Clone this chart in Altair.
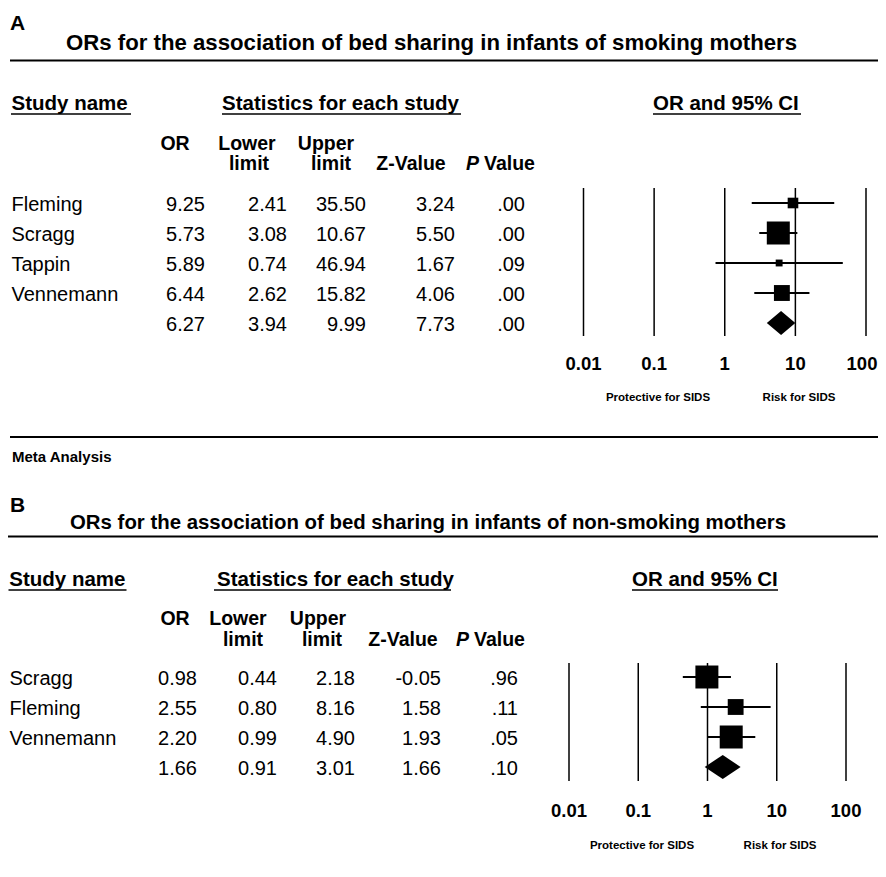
import altair as alt
import numpy as np
import pandas as pd

FONT = "Liberation Sans"

# ---------------- data ----------------
ticks = [0.01, 0.1, 1, 10, 100]
tick_labels = ["0.01", "0.1", "1", "10", "100"]

a_studies = ["Fleming", "Scragg", "Tappin", "Vennemann", ""]
a_or = [9.25, 5.73, 5.89, 6.44, 6.27]
a_lower = [2.41, 3.08, 0.74, 2.62, 3.94]
a_upper = [35.50, 10.67, 46.94, 15.82, 9.99]
a_z = [3.24, 5.50, 1.67, 4.06, 7.73]
a_p = [".00", ".00", ".09", ".00", ".00"]

b_studies = ["Scragg", "Fleming", "Vennemann", ""]
b_or = [0.98, 2.55, 2.20, 1.66]
b_lower = [0.44, 0.80, 0.99, 0.91]
b_upper = [2.18, 8.16, 4.90, 3.01]
b_z = [-0.05, 1.58, 1.93, 1.66]
b_p = [".96", ".11", ".05", ".10"]

title_a = "ORs for the association of bed sharing in infants of smoking mothers"
title_b = "ORs for the association of bed sharing in infants of non-smoking mothers"

one = pd.DataFrame({"k": [0]})
RIGHT = 870


def label(text, x, y, size, bold=True, italic=False, align="left"):
    return alt.Chart(one).mark_text(
        text=text, font=FONT, fontSize=size, fontWeight="bold" if bold else "normal",
        fontStyle="italic" if italic else "normal", align=align, baseline="alphabetic",
        color="black",
    ).encode(x=alt.value(x), y=alt.value(y))


def hline(x1, x2, y, w=2):
    return alt.Chart(one).mark_rule(color="black", strokeWidth=w).encode(
        x=alt.value(x1), x2=alt.value(x2), y=alt.value(y))


def panel(c):
    layers = []
    n = len(c["studies"])
    df = pd.DataFrame({
        "row": list(range(n)), "study": c["studies"], "or": c["or"],
        "lower": c["lower"], "upper": c["upper"], "z": c["z"], "p": c["p"],
    })
    df["or_s"] = df["or"].map("{:.2f}".format)
    df["lo_s"] = df["lower"].map("{:.2f}".format)
    df["hi_s"] = df["upper"].map("{:.2f}".format)
    df["z_s"] = df["z"].map("{:.2f}".format)
    se = (np.log(df["upper"]) - np.log(df["lower"])) / (2 * 1.96)
    df["w"] = 1.0 / se ** 2

    yscale = alt.Scale(domain=[0, n - 1], range=c["row_range"], nice=False, zero=False)
    Y = alt.Y("row:Q", scale=yscale, axis=None)
    xscale = alt.Scale(type="log", domain=[0.01, 100], range=c["log_range"], nice=False)

    def X(f):
        return alt.X(f"{f}:Q", scale=xscale, axis=None)

    # headers
    layers.append(label(c["letter"], c["letter_x"], c["letter_y"], 21))
    layers.append(label(c["title"], c["title_x"], c["title_y"], c["title_size"]))
    layers.append(hline(c["line_x"], RIGHT, c["line_y"]))
    for txt, x, ux in c["sections"]:
        layers.append(label(txt, x, c["sec_y"], 20.5))
        layers.append(hline(ux[0], ux[1], c["sec_y"] + 4, 1.5))
    for txt, x, yy in c["heads"]:
        layers.append(label(txt, x, yy, 19.5, align="center"))
    layers.append(label("P", c["p_head_x"] - 1, c["head2_y"], 19.5, italic=True, align="right"))
    layers.append(label("Value", c["p_head_x"] + 4, c["head2_y"], 19.5))

    # table
    base = alt.Chart(df)
    layers.append(base.mark_text(align="left", baseline="middle", font=FONT, fontSize=20,
                                 dy=2, color="black").encode(
        x=alt.value(c["name_x"]), y=Y, text="study:N"))
    for col, xr in zip(["or_s", "lo_s", "hi_s", "z_s", "p"], c["col_right"]):
        layers.append(base.mark_text(align="right", baseline="middle", font=FONT, fontSize=20,
                                     dy=2, color="black").encode(
            x=alt.value(xr), y=Y, text=f"{col}:N"))

    # forest plot
    tdf = pd.DataFrame({"t": ticks, "lab": tick_labels})
    layers.append(alt.Chart(tdf).mark_rule(color="black", strokeWidth=1.5).encode(
        x=X("t"), y=alt.value(c["grid_y"][0]), y2=alt.value(c["grid_y"][1])))
    layers.append(alt.Chart(tdf.iloc[:-1]).mark_text(
        font=FONT, fontSize=18.5, fontWeight="bold", align="center", baseline="alphabetic",
        color="black").encode(x=X("t"), y=alt.value(c["tick_y"]), text="lab:N"))
    layers.append(alt.Chart(tdf.iloc[-1:]).mark_text(
        font=FONT, fontSize=18.5, fontWeight="bold", align="center", baseline="alphabetic",
        color="black", dx=c["last_dx"]).encode(
        x=X("t"), y=alt.value(c["tick_y"]), text="lab:N"))
    sdf = df.iloc[:-1]
    layers.append(alt.Chart(sdf).mark_rule(color="black", strokeWidth=2).encode(
        x=X("lower"), x2="upper", y=Y))
    wmax = float(sdf["w"].max())
    layers.append(alt.Chart(sdf).mark_square(color="black", opacity=1, filled=True).encode(
        x=X("or"), y=Y,
        size=alt.Size("w:Q", scale=alt.Scale(domain=[0, wmax], range=[0, 529]), legend=None)))
    s = df.iloc[-1]
    r = float(s["row"])
    dia = pd.DataFrame({"x": [s["lower"], s["or"], s["upper"]],
                        "y": [r, r - 0.4, r], "y2": [r, r + 0.4, r]})
    layers.append(alt.Chart(dia).mark_area(color="black", opacity=1, orient="vertical").encode(
        x=X("x"), y=alt.Y("y:Q", scale=yscale, axis=None, stack=None), y2="y2"))
    layers.append(label("Protective for SIDS", c["prot_x"], c["ann_y"], 11.5, align="center"))
    layers.append(label("Risk for SIDS", c["risk_x"], c["ann_y"], 11.5, align="center"))
    return layers


cfg_a = dict(
    studies=a_studies, **{"or": a_or}, lower=a_lower, upper=a_upper, z=a_z, p=a_p,
    letter="A", letter_x=2, letter_y=22,
    title=title_a, title_x=58, title_y=42, title_size=22.2,
    line_x=2, line_y=52.5,
    sec_y=102,
    sections=[("Study name", 3.5, (3, 123)), ("Statistics for each study", 214, (214, 453)),
              ("OR and 95% CI", 645, (645, 793))],
    heads=[("OR", 167, 142), ("Lower", 239, 142), ("limit", 241, 162), ("Upper", 318, 142),
           ("limit", 323, 162), ("Z-Value", 403, 162)],
    head2_y=162, p_head_x=472,
    name_x=3.5, col_right=[197, 279, 358, 447, 517],
    row_range=[195, 315], log_range=[575.5, 858], last_dx=-4,
    grid_y=(180, 328), tick_y=362, prot_x=650, risk_x=791, ann_y=393,
)

cfg_b = dict(
    studies=b_studies, **{"or": b_or}, lower=b_lower, upper=b_upper, z=b_z, p=b_p,
    letter="B", letter_x=2, letter_y=504,
    title=title_b, title_x=62, title_y=521, title_size=20.4,
    line_x=0, line_y=528.5,
    sec_y=578,
    sections=[("Study name", 1.3, (0.5, 118.5)), ("Statistics for each study", 209, (206, 443)),
              ("OR and 95% CI", 624, (624, 770))],
    heads=[("OR", 167, 617), ("Lower", 230, 617), ("limit", 235, 638), ("Upper", 310, 617),
           ("limit", 314, 638), ("Z-Value", 395, 638)],
    head2_y=638, p_head_x=462,
    name_x=1.5, col_right=[189, 269, 347, 433, 510],
    row_range=[669, 759], log_range=[561, 838], last_dx=0,
    grid_y=(655, 773), tick_y=809, prot_x=634, risk_x=772, ann_y=841,
)

layers = panel(cfg_a) + panel(cfg_b)
layers.append(hline(2, RIGHT, 429))
layers.append(label("Meta Analysis", 4, 454, 15))

chart = alt.layer(*layers).resolve_scale(
    x="independent", y="independent", size="independent"
).properties(
    width=RIGHT, height=860, padding=0, autosize=alt.AutoSizeParams(type="none")
).configure_view(stroke=None)

chart.save("out.html", embed_options={"renderer": "svg", "actions": False})
